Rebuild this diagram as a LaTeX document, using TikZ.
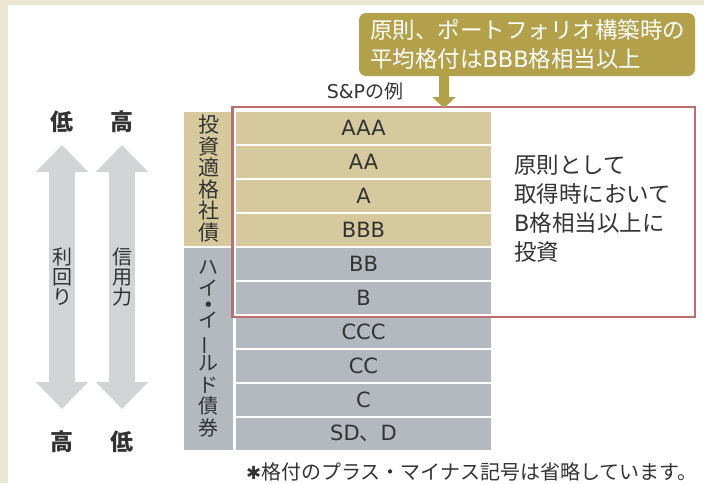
\documentclass[tikz,border=0pt]{standalone}
\usepackage{fontspec}
\setmainfont{Noto Sans CJK JP}
\newfontfamily\lat{DejaVu Sans}
\usepackage{graphicx}
\usetikzlibrary{arrows.meta,positioning}
\definecolor{framebg}{HTML}{EDE6D3}
\definecolor{cellbeige}{HTML}{D6C99D}
\definecolor{cellgray}{HTML}{B3B9BF}
\definecolor{arrowgray}{HTML}{D3D4D6}
\definecolor{olive}{HTML}{B3A04A}
\definecolor{rose}{HTML}{BF6C72}
\definecolor{ink}{HTML}{333333}
\tikzset{
  rating/.style={rectangle,minimum width=255pt,minimum height=31.5pt,inner sep=0pt,
                 text=ink,font=\lat\fontsize{21}{24}\selectfont},
  group/.style={rectangle,minimum width=49pt,inner sep=0pt,text=ink,align=center},
  bigarrow/.style={draw=arrowgray,line width=26pt,
                   {Triangle[length=27pt,width=51pt]}-{Triangle[length=27pt,width=51pt]}},
  endlabel/.style={text=ink,font=\fontsize{23}{23}\selectfont\bfseries},
  tatelabel/.style={text=ink,align=center,font=\fontsize{20}{20}\selectfont},
  pointer/.style={draw=olive,line width=10pt,-{Triangle[length=11pt,width=23pt]}},
}
\newcommand{\tatebar}{\rotatebox[origin=c]{90}{ー}}
\newcommand{\tatedot}{{\lat\fontsize{7}{7}\selectfont ●}}
\begin{document}
\begin{tikzpicture}[x=1pt,y=-1pt]
  % background
  \fill[framebg] (0,0) rectangle (704,483);
  \fill[white] (8,5) rectangle (704,483);
  \useasboundingbox (0,0) rectangle (704,483);

  % yield and credit arrows
  \coordinate (yldTop) at (62,145);
  \coordinate (yldBot) at (62,409);
  \coordinate (crdTop) at (122,145);
  \coordinate (crdBot) at (122,409);
  \draw[bigarrow] (yldTop) -- (yldBot);
  \draw[bigarrow] (crdTop) -- (crdBot);
  \node[tatelabel] (yld) at (62,277) {利\\回\\り};
  \node[tatelabel] (crd) at (122,277) {信\\用\\力};
  \node[endlabel] (yldLo) at (62,122) {低};
  \node[endlabel] (crdHi) at (122,122) {高};
  \node[endlabel] (yldHi) at (62,442) {高};
  \node[endlabel] (crdLo) at (122,442) {低};

  % groups
  \node[group,fill=cellbeige,minimum height=133.5pt,
        font=\fontsize{21}{21.5}\selectfont] (igrade) at (208.5,178.75)
        {投\\資\\適\\格\\社\\債};
  \node[group,fill=cellgray,minimum height=201.5pt,
        font=\fontsize{20}{21.5}\selectfont] (hyield) at (208.5,348.75)
        {ハ\\イ\\[-10.5pt]\tatedot\\[-0.5pt]イ\\\tatebar\\ル\\ド\\債\\券};

  % ratings
  \foreach \lab [count=\i from 0] in {AAA,AA,A,BBB}
    \node[rating,fill=cellbeige] (r\i) at (363.5,{127.75+\i*34}) {\lab};
  \foreach \lab [count=\i from 4] in {BB,B,CCC,CC,C,SD{\rmfamily 、}D}
    \node[rating,fill=cellgray] (r\i) at (363.5,{127.75+\i*34}) {\lab};
  \node[text=ink,font=\fontsize{19}{19}\selectfont] (sp) at (365,91) {{\lat S\&P}の例};

  % policy frame
  \draw[rose,line width=2.5pt] (232.5,107) rectangle (695,317);
  \node[anchor=north west,inner sep=0pt,align=left,text=ink,
        font=\fontsize{22.5}{29}\selectfont] (policy) at (514,155)
        {原則として\\取得時において\\{\lat B}格相当以上に\\投資};

  % callout
  \node[rectangle,rounded corners=7pt,fill=olive,text=white,align=left,
        text width=314pt,inner xsep=11pt,inner ysep=0pt,minimum height=63pt,
        font=\fontsize{22.5}{29}\selectfont] (callout) at (527,44.5)
        {原則、ポートフォリオ構築時の\\平均格付は{\lat BBB}格相当以上};
  \coordinate (ptr) at (444,108);
  \draw[pointer] (callout.south -| ptr) -- (ptr);

  % note
  \node[anchor=east,inner sep=0pt,text=ink,font=\fontsize{20}{20}\selectfont]
        (note) at (698,472) {{\lat\fontsize{18}{18}\selectfont ✱}格付のプラス・マイナス記号は省略しています。};
\end{tikzpicture}
\end{document}
